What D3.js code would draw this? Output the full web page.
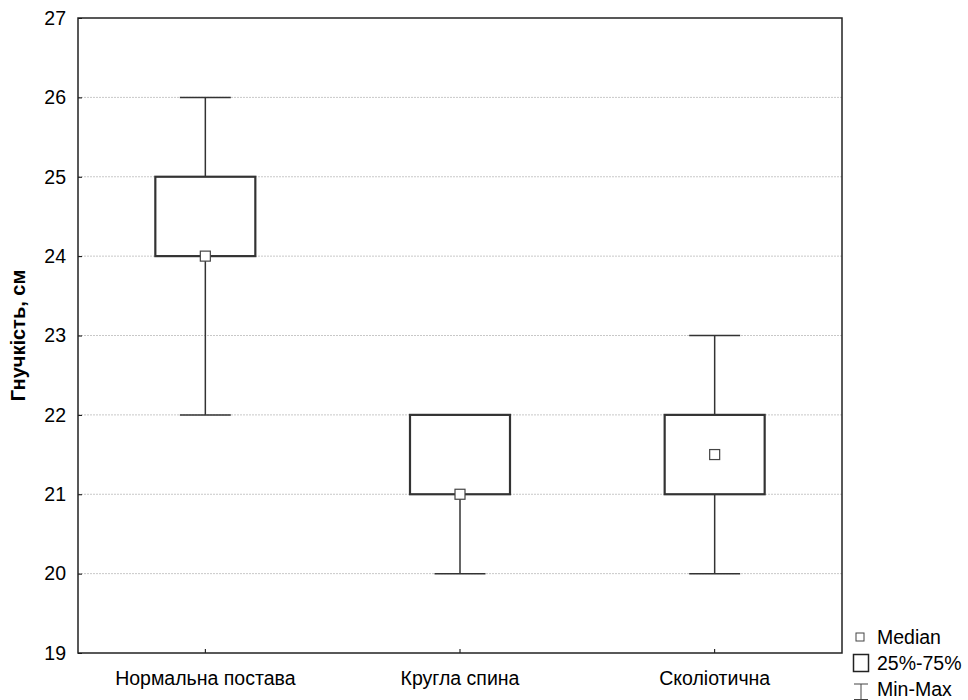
<!DOCTYPE html>
<html>
<head>
<meta charset="utf-8">
<script src="https://cdn.jsdelivr.net/npm/d3@7"></script>
<style>
  body { margin: 0; background: #fff; }
  text { font-family: "Liberation Sans", Arial, sans-serif; }
</style>
</head>
<body>
<div id="chart"></div>
<script>
const categories = ["Нормальна постава", "Кругла спина", "Сколіотична"]
const medians = [24, 21, 21.5]
const q1 = [24, 21, 21]
const q3 = [25, 22, 22]
const mins = [22, 20, 20]
const maxs = [26, 22, 23]
const yTicks = [19, 20, 21, 22, 23, 24, 25, 26, 27]

const MARGIN = { TOP: 18, BOTTOM: 47, LEFT: 78, RIGHT: 126 }
const WIDTH = 968 - MARGIN.LEFT - MARGIN.RIGHT
const HEIGHT = 700 - MARGIN.TOP - MARGIN.BOTTOM
const FS = 19.5

const data = categories.map((c, i) => ({
    name: c, med: medians[i], q1: q1[i], q3: q3[i], min: mins[i], max: maxs[i]
}))

const svg = d3.select("#chart").append("svg")
    .attr("width", 968)
    .attr("height", 700)

const g = svg.append("g")
    .attr("transform", `translate(${MARGIN.LEFT}, ${MARGIN.TOP})`)

const y = d3.scaleLinear().domain([19, 27]).range([HEIGHT, 0])
const x = d3.scaleBand().domain(categories).range([0, WIDTH])

// grid
g.selectAll(".grid").data(yTicks.slice(1, -1)).enter().append("line")
    .attr("x1", 0).attr("x2", WIDTH)
    .attr("y1", d => y(d)).attr("y2", d => y(d))
    .attr("stroke", "#c8c8c8")
    .attr("stroke-dasharray", "2,1")

// axes
const yAxis = g.append("g").call(d3.axisLeft(y).tickValues(yTicks).tickSize(-4).tickPadding(12))
yAxis.select(".domain").remove()
yAxis.selectAll("text").attr("font-size", FS).attr("fill", "#000")
    .attr("font-family", "Liberation Sans, Arial, sans-serif")

const xAxis = g.append("g").attr("transform", `translate(0, ${HEIGHT})`)
    .call(d3.axisBottom(x).tickSize(-4).tickPadding(18))
xAxis.select(".domain").remove()
xAxis.selectAll("text").attr("font-size", FS).attr("fill", "#000")
    .attr("font-family", "Liberation Sans, Arial, sans-serif")

// frame
g.append("rect")
    .attr("width", WIDTH).attr("height", HEIGHT)
    .attr("fill", "none").attr("stroke", "#222").attr("stroke-width", 1.5)

// y label
g.append("text")
    .attr("transform", "rotate(-90)")
    .attr("x", -HEIGHT / 2)
    .attr("y", -53)
    .attr("text-anchor", "middle")
    .attr("font-size", 20)
    .attr("font-weight", "bold")
    .text("Гнучкість, см")

const boxW = 100
const capW = 51
const cx = d => x(d.name) + x.bandwidth() / 2

const boxes = g.selectAll(".box").data(data).enter().append("g")

// whiskers
boxes.append("line")
    .attr("x1", cx).attr("x2", cx)
    .attr("y1", d => y(d.max)).attr("y2", d => y(d.q3))
    .attr("stroke", "#333").attr("stroke-width", 1.5)
boxes.append("line")
    .attr("x1", cx).attr("x2", cx)
    .attr("y1", d => y(d.q1)).attr("y2", d => y(d.min))
    .attr("stroke", "#333").attr("stroke-width", 1.5)
boxes.append("line")
    .attr("x1", d => cx(d) - capW / 2).attr("x2", d => cx(d) + capW / 2)
    .attr("y1", d => y(d.max)).attr("y2", d => y(d.max))
    .attr("stroke", "#333").attr("stroke-width", 1.5)
boxes.append("line")
    .attr("x1", d => cx(d) - capW / 2).attr("x2", d => cx(d) + capW / 2)
    .attr("y1", d => y(d.min)).attr("y2", d => y(d.min))
    .attr("stroke", "#333").attr("stroke-width", 1.5)

// box
boxes.append("rect")
    .attr("x", d => cx(d) - boxW / 2)
    .attr("y", d => y(d.q3))
    .attr("width", boxW)
    .attr("height", d => y(d.q1) - y(d.q3))
    .attr("fill", "#fff").attr("stroke", "#333").attr("stroke-width", 2.2)

// median
boxes.append("rect")
    .attr("x", d => cx(d) - 5)
    .attr("y", d => y(d.med) - 5)
    .attr("width", 10).attr("height", 10)
    .attr("fill", "#fff").attr("stroke", "#444").attr("stroke-width", 1.2)

// legend
const lg = svg.append("g")
lg.append("rect").attr("x", 856).attr("y", 633).attr("width", 8).attr("height", 8)
    .attr("fill", "#fff").attr("stroke", "#444").attr("stroke-width", 1)
lg.append("text").attr("x", 877).attr("y", 644).attr("font-size", FS).text("Median")
lg.append("rect").attr("x", 853.5).attr("y", 654.5).attr("width", 15).attr("height", 17)
    .attr("fill", "#fff").attr("stroke", "#222").attr("stroke-width", 1.5)
lg.append("text").attr("x", 877).attr("y", 670).attr("font-size", FS).text("25%-75%")
lg.append("line").attr("x1", 854).attr("x2", 868).attr("y1", 684).attr("y2", 684)
    .attr("stroke", "#444").attr("stroke-width", 1)
lg.append("line").attr("x1", 861).attr("x2", 861).attr("y1", 684).attr("y2", 700)
    .attr("stroke", "#444").attr("stroke-width", 1)
lg.append("line").attr("x1", 854).attr("x2", 868).attr("y1", 699.5).attr("y2", 699.5)
    .attr("stroke", "#444").attr("stroke-width", 1)
lg.append("text").attr("x", 877).attr("y", 696).attr("font-size", FS).text("Min-Max")
</script>
</body>
</html>
